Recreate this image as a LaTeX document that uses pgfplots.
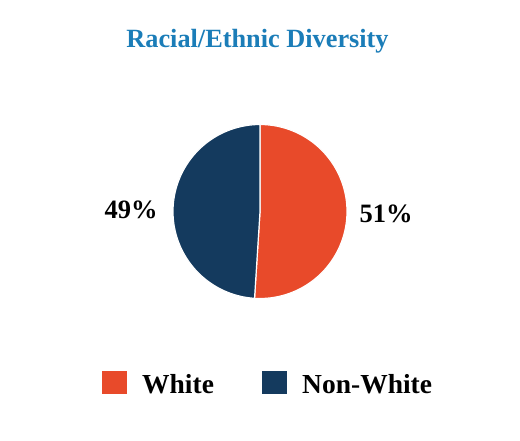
\documentclass[border=0pt]{standalone}
\usepackage{pgfplots}
\pgfplotsset{compat=1.18}
\usepackage{fontspec}
\setmainfont{Liberation Serif}
\definecolor{titleblue}{HTML}{1B7DB8}
\definecolor{whiteorange}{HTML}{E84A2A}
\definecolor{navy}{HTML}{143A5E}
\def\pctWhite{51}
\def\pctNon{49}
\begin{document}
\begin{tikzpicture}[x=1pt,y=1pt]
\path (0,0) rectangle (520,440);
\pgfmathsetmacro{\endang}{90-3.6*\pctWhite}
\begin{axis}[
  at={(260pt,228.5pt)}, anchor=center,
  width=174pt, height=174pt, scale only axis,
  xmin=-1, xmax=1, ymin=-1, ymax=1,
  hide axis, clip=false]
\addplot[fill=whiteorange, draw=white, line width=1.2pt, domain=\endang:90, samples=120]
  ({cos(x)},{sin(x)}) -- (axis cs:0,0) -- cycle;
\addplot[fill=navy, draw=white, line width=1.2pt, domain=90:\endang+360, samples=120]
  ({cos(x)},{sin(x)}) -- (axis cs:0,0) -- cycle;
\end{axis}
\node[anchor=base, text=titleblue, font=\fontsize{26.3}{30}\selectfont\bfseries] at (257.5,392) {Racial/Ethnic Diversity};
\node[anchor=base, font=\fontsize{26.5}{30}\selectfont\bfseries] at (131,222) {\pctNon\%};
\node[anchor=base, font=\fontsize{26.5}{30}\selectfont\bfseries] at (386,217) {\pctWhite\%};
\fill[whiteorange] (102,46) rectangle (127,69);
\node[anchor=base west, inner sep=0pt, font=\fontsize{27.5}{32}\selectfont\bfseries] at (142,47) {White};
\fill[navy] (262,46) rectangle (287,69);
\node[anchor=base west, inner sep=0pt, font=\fontsize{27.5}{32}\selectfont\bfseries] at (302,47) {Non-White};
\end{tikzpicture}
\end{document}
